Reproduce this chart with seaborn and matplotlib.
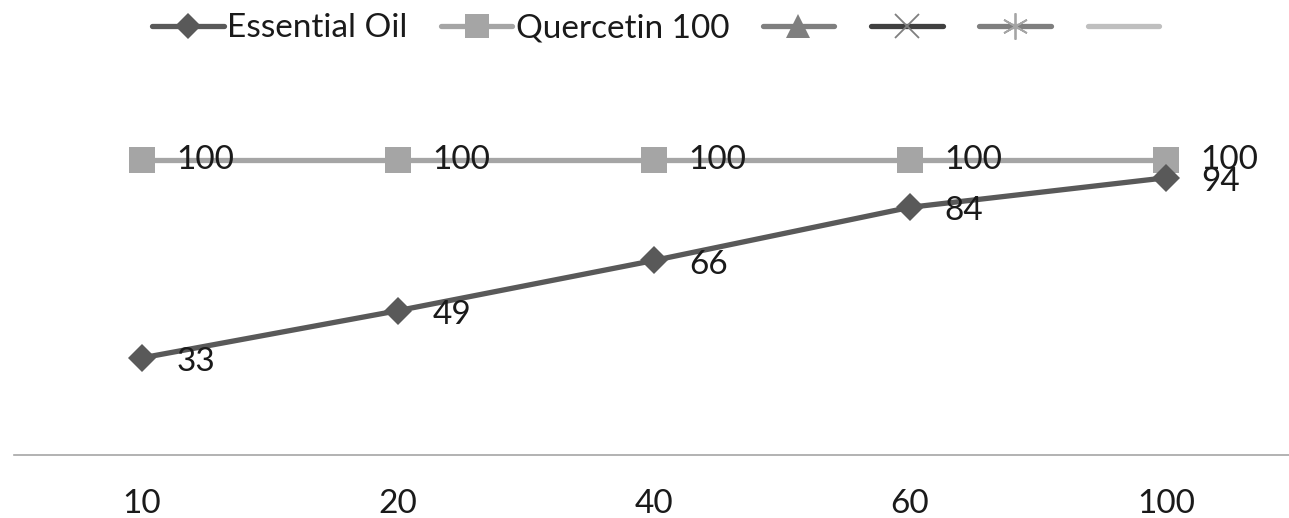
import matplotlib
matplotlib.use("Agg")
import matplotlib.pyplot as plt
from matplotlib.lines import Line2D
import seaborn as sns
import pandas as pd

# chart values
concentrations = ["10", "20", "40", "60", "100"]
essential_oil = [33, 49, 66, 84, 94]
quercetin = [100, 100, 100, 100, 100]
series_names = ["Essential Oil", "Quercetin 100"]

sns.set_theme(style="white")
plt.rcParams["font.family"] = ["Lato", "DejaVu Sans"]

df = pd.DataFrame({
    "conc": concentrations * 2,
    "pos": list(range(len(concentrations))) * 2,
    "value": essential_oil + quercetin,
    "series": [series_names[0]] * len(concentrations) + [series_names[1]] * len(concentrations),
})

fig = plt.figure(figsize=(12.89, 5.18), dpi=100)
ax = fig.add_axes([0.0109, 0.121, 0.993, 0.684])

colors = {"Essential Oil": "#595959", "Quercetin 100": "#a5a5a5"}
markers = {"Essential Oil": "D", "Quercetin 100": "s"}
sizes = {"Essential Oil": 14, "Quercetin 100": 19}

# draw quercetin first so the oil line sits on top like the original
for name in [series_names[1], series_names[0]]:
    sub = df[df["series"] == name]
    sns.lineplot(data=sub, x="pos", y="value", ax=ax, color=colors[name],
                 linewidth=3.8, marker=markers[name], markersize=sizes[name],
                 markeredgewidth=0, label=name, legend=False)
    dy = 0 if name == "Quercetin 100" else -3
    for x, y in zip(sub["pos"], sub["value"]):
        ax.annotate(str(y), (x, y), xytext=(25, dy), textcoords="offset points",
                    ha="left", va="center", fontsize=24, color="#1a1a1a")

ax.set_xlim(-0.5, len(concentrations) - 0.5)
ax.set_ylim(0, 120)
ax.set_xticks(range(len(concentrations)))
ax.set_xticklabels(concentrations, fontsize=24, color="#1a1a1a")
ax.tick_params(axis="x", length=0, pad=24)
ax.set_yticks([])
ax.set_xlabel("")
ax.set_ylabel("")
for side in ["top", "left", "right"]:
    ax.spines[side].set_visible(False)
ax.spines["bottom"].set_color("#a6a6a6")
ax.spines["bottom"].set_linewidth(1.2)

handles = [
    Line2D([], [], color="#595959", lw=3.8, marker="D", markersize=13, markeredgewidth=0),
    Line2D([], [], color="#a5a5a5", lw=3.8, marker="s", markersize=17, markeredgewidth=0),
    Line2D([], [], color="#7f7f7f", lw=3.8, marker="^", markersize=17, markeredgewidth=0),
    Line2D([], [], color="#404040", lw=3.8, marker="x", markersize=17,
           markeredgewidth=1.3, markeredgecolor="#7f7f7f"),
    Line2D([], [], color="#7f7f7f", lw=3.8, marker=(6, 2, 0), markersize=19,
           markeredgewidth=1.3, markeredgecolor="#a5a5a5"),
    Line2D([], [], color="#bfbfbf", lw=3.8),
]
labels = series_names + ["", "", "", ""]
fig.legend(handles, labels, loc="center", bbox_to_anchor=(0.51, 0.945), ncol=6,
           frameon=False, fontsize=24, handlelength=2.15, handletextpad=0.1,
           columnspacing=1.0, labelcolor="#1a1a1a")

fig.savefig("out.png", dpi=100)
